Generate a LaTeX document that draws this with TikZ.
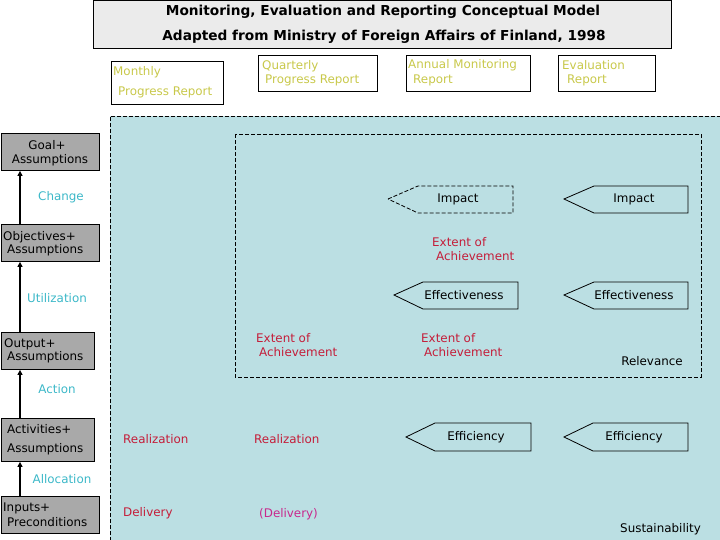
\documentclass[tikz,border=0pt]{standalone}
\usepackage{fontspec}
\setmainfont{DejaVu Sans}
\usetikzlibrary{arrows.meta}
\definecolor{bluebg}{HTML}{BBDFE3}
\definecolor{titlebg}{HTML}{EBEBEB}
\definecolor{boxgray}{HTML}{A9A9A9}
\definecolor{yel}{HTML}{C8C84A}
\definecolor{cyn}{HTML}{3CB8C8}
\definecolor{redt}{HTML}{C41E3A}
\definecolor{magt}{HTML}{C8288C}
\tikzset{
  every node/.style={font=\fontsize{11.9}{13}\selectfont, inner sep=0pt},
  lt/.style={anchor=west},
  ct/.style={anchor=center},
  rt/.style={anchor=east},
  rep/.style={draw=black, line width=0.9pt},
  lbox/.style={draw=black, fill=boxgray, line width=0.9pt, anchor=north west},
  yl/.style={text=yel},
  cy/.style={text=cyn},
  rd/.style={text=redt},
  pent/.style={draw=black, line width=0.8pt},
  dsh/.style={dash pattern=on 4pt off 2pt},
  arr/.style={line width=1.8pt, -{Triangle[width=5pt,length=5pt]}},
  ttl/.style={anchor=center, font=\fontsize{13.7}{15}\selectfont\bfseries},
}
\begin{document}
\begin{tikzpicture}[x=1pt,y=-1pt]
\useasboundingbox (0,0) rectangle (720,540);
% blue region
\fill[bluebg] (110,116) rectangle (721,541);
\draw[line width=0.8pt, dsh] (110,541) -- (110,116) -- (721,116);
\draw[line width=0.8pt, dsh] (235,134) rectangle (701,377);

% title
\node[draw=black, fill=titlebg, line width=0.9pt, anchor=north west, minimum width=578pt, minimum height=48pt] (title) at (93,0.5) {};
\node[ttl] (t1) at (383,12) {Monitoring, Evaluation and Reporting Conceptual Model};
\node[ttl] (t2) at (384,37) {Adapted from Ministry of Foreign Affairs of Finland, 1998};

% report boxes
\node[rep, anchor=north west, minimum width=112pt, minimum height=43pt] (monthly) at (111,61) {};
\node[lt, yl] (m1) at (113,72) {Monthly};
\node[lt, yl] (m2) at (118,92) {Progress Report};
\node[rep, anchor=north west, minimum width=119pt, minimum height=36pt] (quart) at (258,55) {};
\node[lt, yl] (q1) at (262,66) {Quarterly};
\node[lt, yl] (q2) at (265,80) {Progress Report};
\node[rep, anchor=north west, minimum width=124pt, minimum height=36pt] (annual) at (406,55) {};
\node[lt, yl] (a1) at (408,65) {Annual Monitoring};
\node[lt, yl] (a2) at (413,80) {Report};
\node[rep, anchor=north west, minimum width=97pt, minimum height=36pt] (evalr) at (558,55) {};
\node[lt, yl] (e1) at (562,65) {Evaluation};
\node[lt, yl] (e2) at (567,80) {Report};

% left boxes
\node[lbox, minimum width=98.5pt, minimum height=37pt] (goal) at (0.5,133) {};
\node[ct] (g1) at (47,145) {Goal+};
\node[ct] (g2) at (50,160) {Assumptions};
\node[lbox, minimum width=98.5pt, minimum height=37pt] (obj) at (0.5,224) {};
\node[lt] (o1) at (3,237) {Objectives+};
\node[lt] (o2) at (7,250) {Assumptions};
\node[lbox, minimum width=93.5pt, minimum height=37pt] (outp) at (0.5,332) {};
\node[lt] (p1) at (4,344) {Output+};
\node[lt] (p2) at (7,357) {Assumptions};
\node[lbox, minimum width=93.5pt, minimum height=43pt] (act) at (0.5,418) {};
\node[lt] (c1) at (7,429) {Activities+};
\node[lt] (c2) at (7,449) {Assumptions};
\node[lbox, minimum width=98.5pt, minimum height=37pt] (inp) at (0.5,496) {};
\node[lt] (i1) at (3,508) {Inputs+};
\node[lt] (i2) at (7,522) {Preconditions};

% arrows
\draw[arr] ([xshift=19.5pt]obj.north west) -- ([xshift=19.5pt]goal.south west);
\draw[arr] ([xshift=19.5pt]outp.north west) -- ([xshift=19.5pt]obj.south west);
\draw[arr] ([xshift=19.5pt]act.north west) -- ([xshift=19.5pt]outp.south west);
\draw[arr] ([xshift=19.5pt]inp.north west) -- ([xshift=19.5pt]act.south west);

% cyan labels
\node[ct, cy] (chg) at (61,197) {Change};
\node[ct, cy] (util) at (57,298) {Utilization};
\node[ct, cy] (actn) at (57,389) {Action};
\node[ct, cy] (alloc) at (62,479) {Allocation};

% red labels
\node[lt, rd] (r1) at (123,439) {Realization};
\node[lt, rd] (d1) at (123,513) {Delivery};
\node[lt, rd] (x1a) at (256,338) {Extent of};
\node[lt, rd] (x1b) at (259,352) {Achievement};
\node[lt, rd] (r2) at (254,439) {Realization};
\node[lt, text=magt] (d2) at (259,514) {(Delivery)};
\node[lt, rd] (x2a) at (421,338) {Extent of};
\node[lt, rd] (x2b) at (424,352) {Achievement};
\node[lt, rd] (x3a) at (432,242) {Extent of};
\node[lt, rd] (x3b) at (436,256) {Achievement};

% black labels
\node[ct] (relev) at (652,361) {Relevance};
\node[rt] (sust) at (701,529) {Sustainability};

% pentagon arrows
\draw[pent, dsh] (388,199) -- (418,186) -- (513,186) -- (513,213) -- (418,213) -- cycle;
\node[ct] (imp1) at (458,199) {Impact};
\draw[pent] (564,199) -- (594,186) -- (688,186) -- (688,213) -- (594,213) -- cycle;
\node[ct] (imp2) at (634,199) {Impact};
\draw[pent] (394,295) -- (423,282) -- (518,282) -- (518,309) -- (423,309) -- cycle;
\node[ct] (eff1) at (464,295) {Effectiveness};
\draw[pent] (564,295) -- (594,282) -- (688,282) -- (688,309) -- (594,309) -- cycle;
\node[ct] (eff2) at (634,295) {Effectiveness};
\draw[pent] (406,437) -- (435,423) -- (531,423) -- (531,451) -- (435,451) -- cycle;
\node[ct] (efc1) at (476,437) {Efficiency};
\draw[pent] (564,437) -- (593,423) -- (688,423) -- (688,451) -- (593,451) -- cycle;
\node[ct] (efc2) at (634,437) {Efficiency};
\end{tikzpicture}
\end{document}
